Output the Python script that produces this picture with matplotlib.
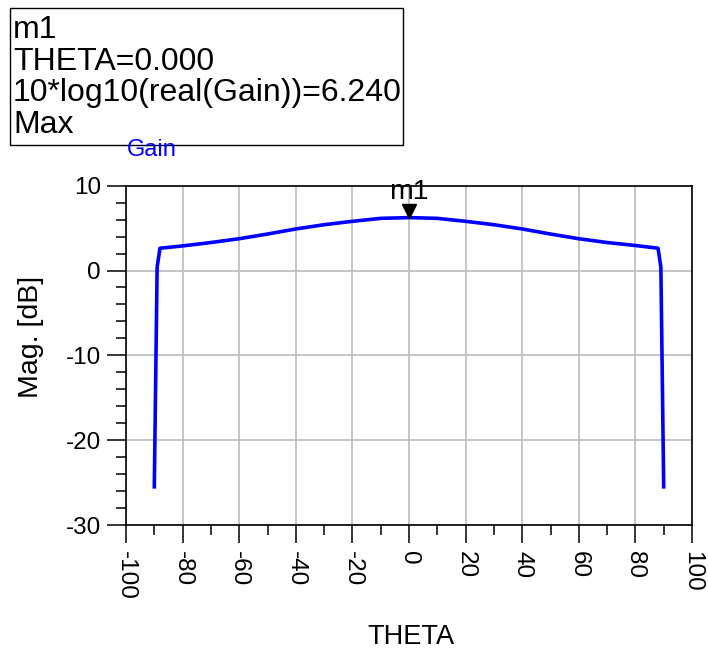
import matplotlib.pyplot as plt
from matplotlib.patches import Rectangle
from matplotlib.ticker import MultipleLocator
import matplotlib.transforms as mtransforms

plt.rcParams['font.family'] = ['Liberation Sans', 'DejaVu Sans']
plt.rcParams['axes.unicode_minus'] = False

# ---- datos: ganancia vs angulo ----
theta = [-90, -89, -88, -80, -70, -60, -50, -40, -30, -20, -10, 0,
         10, 20, 30, 40, 50, 60, 70, 80, 88, 89, 90]
gain_db = [-25.5, 0.4, 2.63, 2.9, 3.3, 3.75, 4.3, 4.9, 5.4, 5.8, 6.15, 6.24,
           6.15, 5.8, 5.4, 4.9, 4.3, 3.75, 3.3, 2.95, 2.63, 0.4, -25.5]
marker_theta = 0.0
marker_gain = 6.240
x_ticks = [-100, -80, -60, -40, -20, 0, 20, 40, 60, 80, 100]
y_ticks = [-30, -20, -10, 0, 10]

fig = plt.figure(figsize=(7.08, 6.51), dpi=100)
ax = fig.add_axes([126/708, 1-525/651, 566/708, 339.3/651])

ax.plot(theta, gain_db, color='#0000ff', lw=2.6, zorder=3)

ax.set_xlim(-100, 100)
ax.set_ylim(-30, 10)
ax.set_xticks(x_ticks)
ax.set_yticks(y_ticks)
ax.xaxis.set_minor_locator(MultipleLocator(10))
ax.yaxis.set_minor_locator(MultipleLocator(2))
ax.grid(True, which='major', color='#c0c0c0', lw=1.3)
ax.set_axisbelow(True)

ax.tick_params(axis='y', which='major', length=14, width=1.1, labelsize=17.5, pad=4)
ax.tick_params(axis='y', which='minor', length=7, width=1.1)
ax.tick_params(axis='x', which='major', length=13, width=1.1, labelsize=17.5, pad=6)
ax.tick_params(axis='x', which='minor', length=7, width=1.1)
for lbl in ax.get_xticklabels():
    lbl.set_rotation(270)
    lbl.set_va('top')
    lbl.set_ha('center')
for s in ax.spines.values():
    s.set_linewidth(1.2)
    s.set_color('black')

#---titulos---#
fig.text(411/708, 1-637/651, 'THETA', fontsize=19.5, ha='center', va='center')
fig.text(31/708, 1-337/651, 'Mag. [dB]', fontsize=20.5, rotation=90,
         ha='center', va='center')
fig.text(127/708, 1-150/651, 'Gain', fontsize=17, color='#0000ff',
         ha='left', va='center')

# ---- marcador m1 ----
tri = mtransforms.offset_copy(ax.transData, fig=fig, x=0, y=7, units='dots')
ax.plot(marker_theta, marker_gain, marker='v', ms=10.5, color='black',
        transform=tri, clip_on=False, zorder=5)
ax.annotate('m1', (marker_theta, marker_gain), xytext=(0, 19),
            textcoords='offset pixels', ha='center', va='baseline',
            fontsize=20.5, zorder=6, annotation_clip=False)

# ---- cuadro de lectura del marcador ----
fig.patches.append(Rectangle((10/708, 1-145/651), 393/708, 137/651,
                             transform=fig.transFigure, fill=False,
                             edgecolor='black', lw=1.0))
lineas = ['m1', 'THETA=%.3f' % marker_theta,
          '10*log10(real(Gain))=%.3f' % marker_gain, 'Max']
for i, txt in enumerate(lineas):
    fig.text(13/708, 1-(38 + 31.7*i)/651, txt, fontsize=23,
             ha='left', va='baseline')

fig.savefig('out.png', dpi=100)
